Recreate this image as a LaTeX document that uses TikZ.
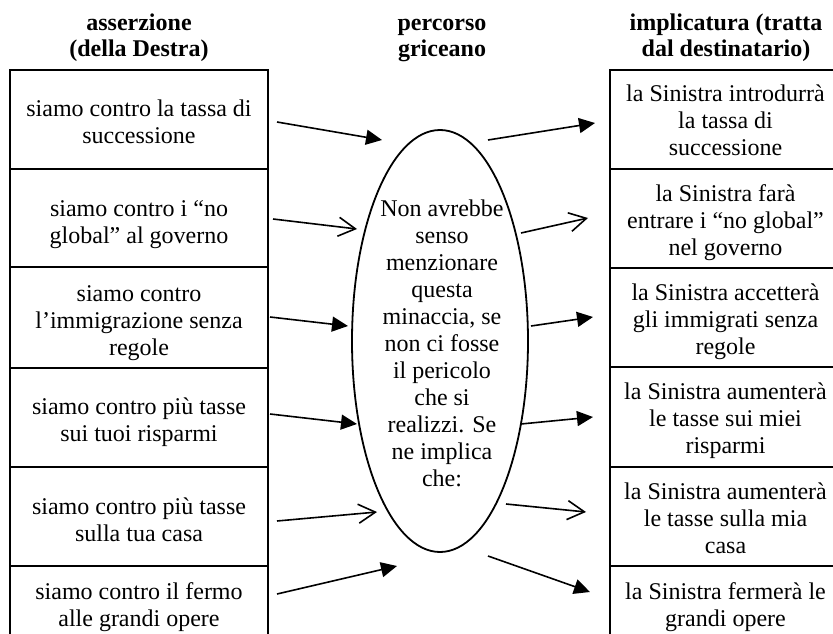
\documentclass[tikz,border=0pt]{standalone}
\usepackage{fontspec}
\setmainfont{Liberation Serif}
\usetikzlibrary{arrows.meta,shapes.geometric}
\begin{document}
\begin{tikzpicture}[x=1pt,y=-1pt,
  txt/.style={font=\fontsize{24}{27}\selectfont, align=center, inner sep=0pt},
  head/.style={txt, font=\fontsize{24}{26}\selectfont\bfseries},
  cell/.style={draw, line width=2.2pt, inner sep=0pt},
  lcell/.style={cell, minimum width=258pt},
  rcell/.style={cell, minimum width=231pt},
  conn/.style={line width=1.6pt},
  fillarr/.style={conn, -{Triangle[length=16pt,width=15pt]}},
  openarr/.style={conn, -{Straight Barb[length=17pt,width=19pt,line width=1.6pt]}}
]
\useasboundingbox (0,0) rectangle (833,634);
\clip (0,0) rectangle (833,634);

% headings
\node[head] (h1) at (139,38) {\strut asserzione\\\strut (della Destra)};
\node[head] (h2) at (442,38) {\strut percorso\\\strut griceano};
\node[head] (h3) at (726,38) {\strut implicatura (tratta\\\strut dal destinatario)};

% left column boxes
\node[lcell, minimum height=99pt]  (l1) at (139,119.5) {};
\node[lcell, minimum height=98pt]  (l2) at (139,218) {};
\node[lcell, minimum height=101pt] (l3) at (139,317.5) {};
\node[lcell, minimum height=99pt]  (l4) at (139,417.5) {};
\node[lcell, minimum height=99pt]  (l5) at (139,516.5) {};
\node[lcell, minimum height=76pt]  (l6) at (139,604) {};
% left column texts
\node[txt] (l1t) at (139,125) {\strut siamo contro la tassa di\\\strut successione};
\node[txt] (l2t) at (139,225) {\strut siamo contro i “no\\\strut global” al governo};
\node[txt] (l3t) at (139,323.5) {\strut siamo contro\\\strut l’immigrazione senza\\\strut regole};
\node[txt] (l4t) at (139,423) {\strut siamo contro più tasse\\\strut sui tuoi risparmi};
\node[txt] (l5t) at (139,523) {\strut siamo contro più tasse\\\strut sulla tua casa};
\node[txt] (l6t) at (139,608) {\strut siamo contro il fermo\\\strut alle grandi opere};

% right column boxes
\node[rcell, minimum height=99pt]  (r1) at (725.5,119.5) {};
\node[rcell, minimum height=99pt]  (r2) at (725.5,218.5) {};
\node[rcell, minimum height=99pt]  (r3) at (725.5,317.5) {};
\node[rcell, minimum height=100pt] (r4) at (725.5,417) {};
\node[rcell, minimum height=99pt]  (r5) at (725.5,516.5) {};
\node[rcell, minimum height=76pt]  (r6) at (725.5,604) {};
% right column texts
\node[txt] (r1t) at (725.5,123.5) {\strut la Sinistra introdurrà\\\strut la tassa di\\\strut successione};
\node[txt] (r2t) at (725.5,223.5) {\strut la Sinistra farà\\\strut entrare i “no global”\\\strut nel governo};
\node[txt] (r3t) at (725.5,322.5) {\strut la Sinistra accetterà\\\strut gli immigrati senza\\\strut regole};
\node[txt] (r4t) at (725.5,421.5) {\strut la Sinistra aumenterà\\\strut le tasse sui miei\\\strut risparmi};
\node[txt] (r5t) at (725.5,521.5) {\strut la Sinistra aumenterà\\\strut le tasse sulla mia\\\strut casa};
\node[txt] (r6t) at (725.5,608) {\strut la Sinistra fermerà le\\\strut grandi opere};

% central ellipse
\node[ellipse, draw, line width=1.8pt, minimum width=176pt, minimum height=422pt, inner sep=0pt] (ell) at (440,341) {};
\node[txt] (etext) at (442,346) {\strut Non avrebbe\\\strut senso\\\strut menzionare\\\strut questa\\\strut minaccia, se\\\strut non ci fosse\\\strut il pericolo\\\strut che si\\\strut realizzi. Se\\\strut ne implica\\\strut che:};

% connector end points
\coordinate (L1s) at (277,122); \coordinate (L1e) at (382,140);
\coordinate (L2s) at (273,219); \coordinate (L2e) at (357,229);
\coordinate (L3s) at (270,317); \coordinate (L3e) at (348,326);
\coordinate (L4s) at (270,414); \coordinate (L4e) at (357,424);
\coordinate (L5s) at (277,521); \coordinate (L5e) at (377,512);
\coordinate (L6s) at (277,594); \coordinate (L6e) at (397,566);
\coordinate (R1s) at (488,140); \coordinate (R1e) at (595,123);
\coordinate (R2s) at (521,233); \coordinate (R2e) at (588,218);
\coordinate (R3s) at (531,326); \coordinate (R3e) at (593,317);
\coordinate (R4s) at (521,424); \coordinate (R4e) at (593,417);
\coordinate (R5s) at (506,504); \coordinate (R5e) at (586,512);
\coordinate (R6s) at (488,556); \coordinate (R6e) at (590,592);

\draw[fillarr] (L1s) -- (L1e);
\draw[openarr] (L2s) -- (L2e);
\draw[fillarr] (L3s) -- (L3e);
\draw[fillarr] (L4s) -- (L4e);
\draw[openarr] (L5s) -- (L5e);
\draw[fillarr] (L6s) -- (L6e);
\draw[fillarr] (R1s) -- (R1e);
\draw[openarr] (R2s) -- (R2e);
\draw[fillarr] (R3s) -- (R3e);
\draw[fillarr] (R4s) -- (R4e);
\draw[openarr] (R5s) -- (R5e);
\draw[fillarr] (R6s) -- (R6e);
\end{tikzpicture}
\end{document}
